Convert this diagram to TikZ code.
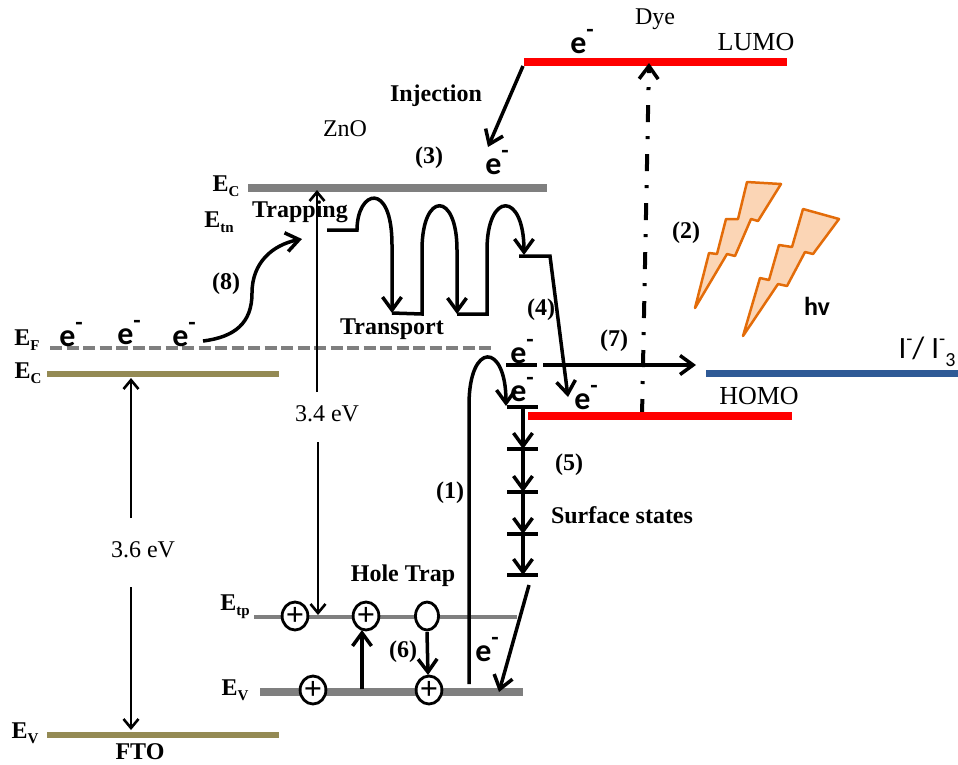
\documentclass[tikz,border=0pt]{standalone}
\usepackage{fontspec}
\setmainfont{Liberation Serif}
\newfontfamily\calfont{Carlito}
\usetikzlibrary{positioning,arrows.meta,shapes.geometric}
\definecolor{lvlgrey}{HTML}{7F7F7F}
\definecolor{ftoband}{HTML}{948A54}
\definecolor{redoxband}{HTML}{2F5A96}
\definecolor{boltline}{HTML}{E36C09}
\definecolor{boltfill}{HTML}{FBD5B5}
\newcommand{\elec}{e\raisebox{.5em}{\fontsize{24}{24}\selectfont -}}
\newcommand{\lowsub}[2]{#1\raisebox{-.22em}{\fontsize{15}{15}\selectfont #2}}

\begin{document}
\begin{tikzpicture}
[x=1pt,y=-1pt,
 every node/.style={inner sep=0pt,outer sep=0pt,font=\fontsize{24}{24}\selectfont},
 bold/.style={font=\fontsize{24}{24}\selectfont\bfseries},
 orbital/.style={font=\fontsize{26}{26}\selectfont},
 elc/.style={font=\fontsize{32}{32}\selectfont\calfont\bfseries},
 hole/.style={draw=black,ellipse,line width=2.8pt,fill=white,minimum width=23pt,minimum height=28pt,font=\fontsize{32}{32}\selectfont\bfseries},
 lumohomo/.style={draw=red,line width=8pt},
 zncb/.style={draw=lvlgrey,line width=8pt},
 znfermi/.style={draw=lvlgrey,line width=4pt,dash pattern=on 12pt off 4.5pt},
 zntrap/.style={draw=lvlgrey,line width=4pt},
 fto/.style={draw=ftoband,line width=6pt},
 redox/.style={draw=redoxband,line width=7pt},
 bolt/.style={draw=boltline,fill=boltfill,line width=2.5pt,line join=round},
 level/.style={line width=3.5pt},
 jump/.style={line width=3.5pt,-{Straight Barb[length=13pt,width=19pt,line width=3.5pt]}},
 gap/.style={line width=2.6pt,-{Straight Barb[length=9pt,width=15pt,line width=2.6pt]}},
 excite/.style={jump,line width=4pt,dash pattern=on 17pt off 15pt on 3pt off 14pt}]
% bands
\coordinate (lumoL) at (524,62);
\coordinate[on grid,right=263pt of lumoL] (lumoR);
\coordinate (homoL) at (528,416);
\coordinate[on grid,right=264pt of homoL] (homoR);
\coordinate (ecL) at (248,188);
\coordinate[on grid,right=299pt of ecL] (ecR);
\coordinate (efL) at (50,348);
\coordinate[on grid,right=445pt of efL] (efR);
\coordinate (etpL) at (254,617);
\coordinate[on grid,right=263pt of etpL] (etpR);
\coordinate (evL) at (260,692);
\coordinate[on grid,right=263pt of evL] (evR);
\coordinate (ftoCL) at (47,374);
\coordinate[on grid,right=232pt of ftoCL] (ftoCR);
\coordinate (ftoVL) at (47,735);
\coordinate[on grid,right=232pt of ftoVL] (ftoVR);
\coordinate (redoxL) at (706,373);
\coordinate[on grid,right=252pt of redoxL] (redoxR);
\path[use as bounding box] (0,0) rectangle (958,764);
\path[lumohomo] (lumoL) edge (lumoR);
\path[zncb]     (ecL) edge (ecR);
\path[znfermi]  (efL) edge (efR);
\path[zntrap]   (etpL) edge (etpR);
\path[zncb]     (evL) edge (evR);
\path[fto]      (ftoCL) edge (ftoCR);
\path[fto]      (ftoVL) edge (ftoVR);
\path[redox]    (redoxL) edge (redoxR);
% labels
\node (dye)   at (655,19)  {Dye};
\node (lumo)  [orbital] at (756,42)  {LUMO};
\node (inj)   [bold] at (436,96)  {Injection};
\node (zno)   at (345,129) {ZnO};
\node (n3)    [bold] at (429,158) {(3)};
\node (ecz)   [bold] at (226,186) {\lowsub{E}{C}};
\node (etn)   [bold] at (219,222) {\lowsub{E}{tn}};
\node (trap)  [bold] at (300,212) {Trapping};
\node (n2)    [bold] at (686,233) {(2)};
\node (n8)    [bold] at (226,284) {(8)};
\node (trans) [bold] at (392,329) {Transport};
\node (n4)    [bold] at (541,310) {(4)};
\node (efl)   [bold] at (27,340)  {\lowsub{E}{F}};
\node (ecf)   [bold] at (28,373)  {\lowsub{E}{C}};
\node (n7)    [bold] at (614,341) {(7)};
\node (homo)  [orbital] at (759,396) {HOMO};
\node (hv)    [font=\fontsize{26}{26}\selectfont\calfont\bfseries] at (817,306) {hv};
\node (redx)  [font=\fontsize{31}{31}\selectfont\calfont] at (927,352) {I\raisebox{.42em}{\fontsize{20}{20}\selectfont -}/ I\raisebox{.42em}{\fontsize{20}{20}\selectfont -}\raisebox{-.25em}{\fontsize{20}{20}\selectfont 3}};
\node (n5)    [bold] at (569,465) {(5)};
\node (surf)  [bold] at (622,515) {Surface states};
\node (n1)    [bold] at (450,493) {(1)};
\node (gapz)  at (327,414) {3.4 eV};
\node (gapf)  at (143,550) {3.6 eV};
\node (htrap) [bold] at (403,576) {Hole Trap};
\node (etp)   [bold] at (235,607) {\lowsub{E}{tp}};
\node (ev)    [bold] at (235,690) {\lowsub{E}{V}};
\node (n6)    [bold] at (403,652) {(6)};
\node (evf)   [bold] at (25,733)  {\lowsub{E}{V}};
\node (ftol)  [bold] at (140,752) {FTO};
% electrons
\node (e1)  [elc] at (582,42)  {\elec};
\node (e2)  [elc] at (497,163) {\elec};
\node (e3)  [elc] at (71,335)  {\elec};
\node (e4)  [elc] at (129,333) {\elec};
\node (e5)  [elc] at (184,335) {\elec};
\node (e6)  [elc] at (522,352) {\elec};
\node (e7)  [elc] at (522,390) {\elec};
\node (e8)  [elc] at (586,398) {\elec};
\node (e9)  [elc] at (487,650) {\elec};
% bolts
\draw[bolt] (747,182) -- (781,184) -- (758,221) -- (751,219) -- (735,256) -- (727,254) -- (695,308)
 -- (709,253) -- (717,254) -- (726,219) -- (738,219) -- cycle;
\draw[bolt] (803,209) -- (839,219) -- (813,254) -- (805,252) -- (787,286) -- (778,284) -- (743,336)
 -- (760,278) -- (769,280) -- (779,245) -- (792,247) -- cycle;
% gaps
\coordinate (zUp)   at (317,392);
\coordinate (zTop)  at (317,190);
\coordinate (zDown) at (318,442);
\coordinate (zBot)  at (318,615);
\coordinate (fUp)   at (131,518);
\coordinate (fTop)  at (131,378);
\coordinate (fDown) at (131,587);
\coordinate (fBot)  at (131,730);
\path[gap] (zUp)   edge (zTop);
\path[gap] (zDown) edge (zBot);
\path[gap] (fUp)   edge (fTop);
\path[gap] (fDown) edge (fBot);
% dye
\coordinate (injA)  at (523,66);
\coordinate (injB)  at (488,147);
\coordinate (excA)  at (642,416);
\coordinate (excB)  at (649,63);
\path[jump]   (injA) edge (injB);
\path[excite] (excA) edge (excB);
\path[lumohomo] (homoL) edge (homoR);
% transport hops
\coordinate (t0) at (327,230);
\coordinate (t1) at (357,230);
\coordinate (t1b) at (392,245);
\coordinate (t2) at (392,313);
\coordinate (t2b) at (422,250);
\coordinate (t3) at (422,314);
\coordinate (t3b) at (457,250);
\coordinate (t4) at (457,314);
\coordinate (t4b) at (487,250);
\coordinate (t5) at (487,314);
\coordinate (t6) at (524,255);
\coordinate (s0) at (519,256);
\coordinate (s1) at (550,256);
\coordinate (s2) at (568,397);
\draw[jump] (t0) -- (t1) .. controls +(0,-40) and +(0,-65) .. (t1b) -- (t2);
\draw[jump] (t2) -- (t3) -- (t2b) .. controls +(0,-59) and +(0,-59) .. (t3b) -- (t4);
\draw[jump] (t4) -- (t5) -- (t4b) .. controls +(0,-59) and +(0,-64) .. (t6);
\draw[jump] (s0) -- (s1) -- (s2);
% states near the gap
\coordinate (m0)  at (506,365);
\coordinate[on grid,right=31pt of m0] (m1);
\coordinate (m2)  at (543,365);
\coordinate (m3)  at (696,365);
\path[level] (m0) edge (m1);
\path[jump]  (m2) edge (m3);
% surface states
\coordinate (up0) at (469,684);
\coordinate (up1) at (469,405);
\coordinate (up2) at (506,406);
\coordinate (q0)  at (523,407);
\coordinate[on grid,below=42pt of q0] (q1);
\coordinate[on grid,below=43pt of q1] (q2);
\coordinate[on grid,below=42pt of q2] (q3);
\coordinate[on grid,below=41pt of q3] (q4);
\draw[jump] (up0) -- (up1) .. controls +(0,-64) and +(0,-64) .. (up2);
\foreach \q in {q0,q1,q2,q3,q4}
  \draw[level] ([xshift=-16pt]\q) -- ([xshift=15pt]\q);
\path[jump] (q0) edge (q1);
\path[jump] (q1) edge (q2);
\path[jump] (q2) edge (q3);
\path[jump] (q3) edge (q4);
\coordinate (r0) at (529,585);
\coordinate (r1) at (499,692);
\path[jump] (r0) edge (r1);
% holes
\node (h1) [hole] at (295,616) {+};
\node (h2) [hole] at (366,616) {+};
\node (h3) [hole] at (427,616) {};
\node (h4) [hole] at (313,690) {+};
\node (h5) [hole] at (429,690) {+};
\coordinate (hA) at (362,689);
\coordinate (hB) at (362,630);
\coordinate (hC) at (427,632);
\coordinate (hD) at (428,675);
\path[jump] (hA) edge (hB);
\path[jump] (hC) edge (hD);
% recombination
\coordinate (b0) at (203,341);
\coordinate (b1) at (252,293);
\coordinate (b2) at (302,239);
\draw[jump] (b0) .. controls +(32,-4) and +(0,30) .. (b1) .. controls +(0,-30) and +(-30,6) .. (b2);
\end{tikzpicture}
\end{document}
